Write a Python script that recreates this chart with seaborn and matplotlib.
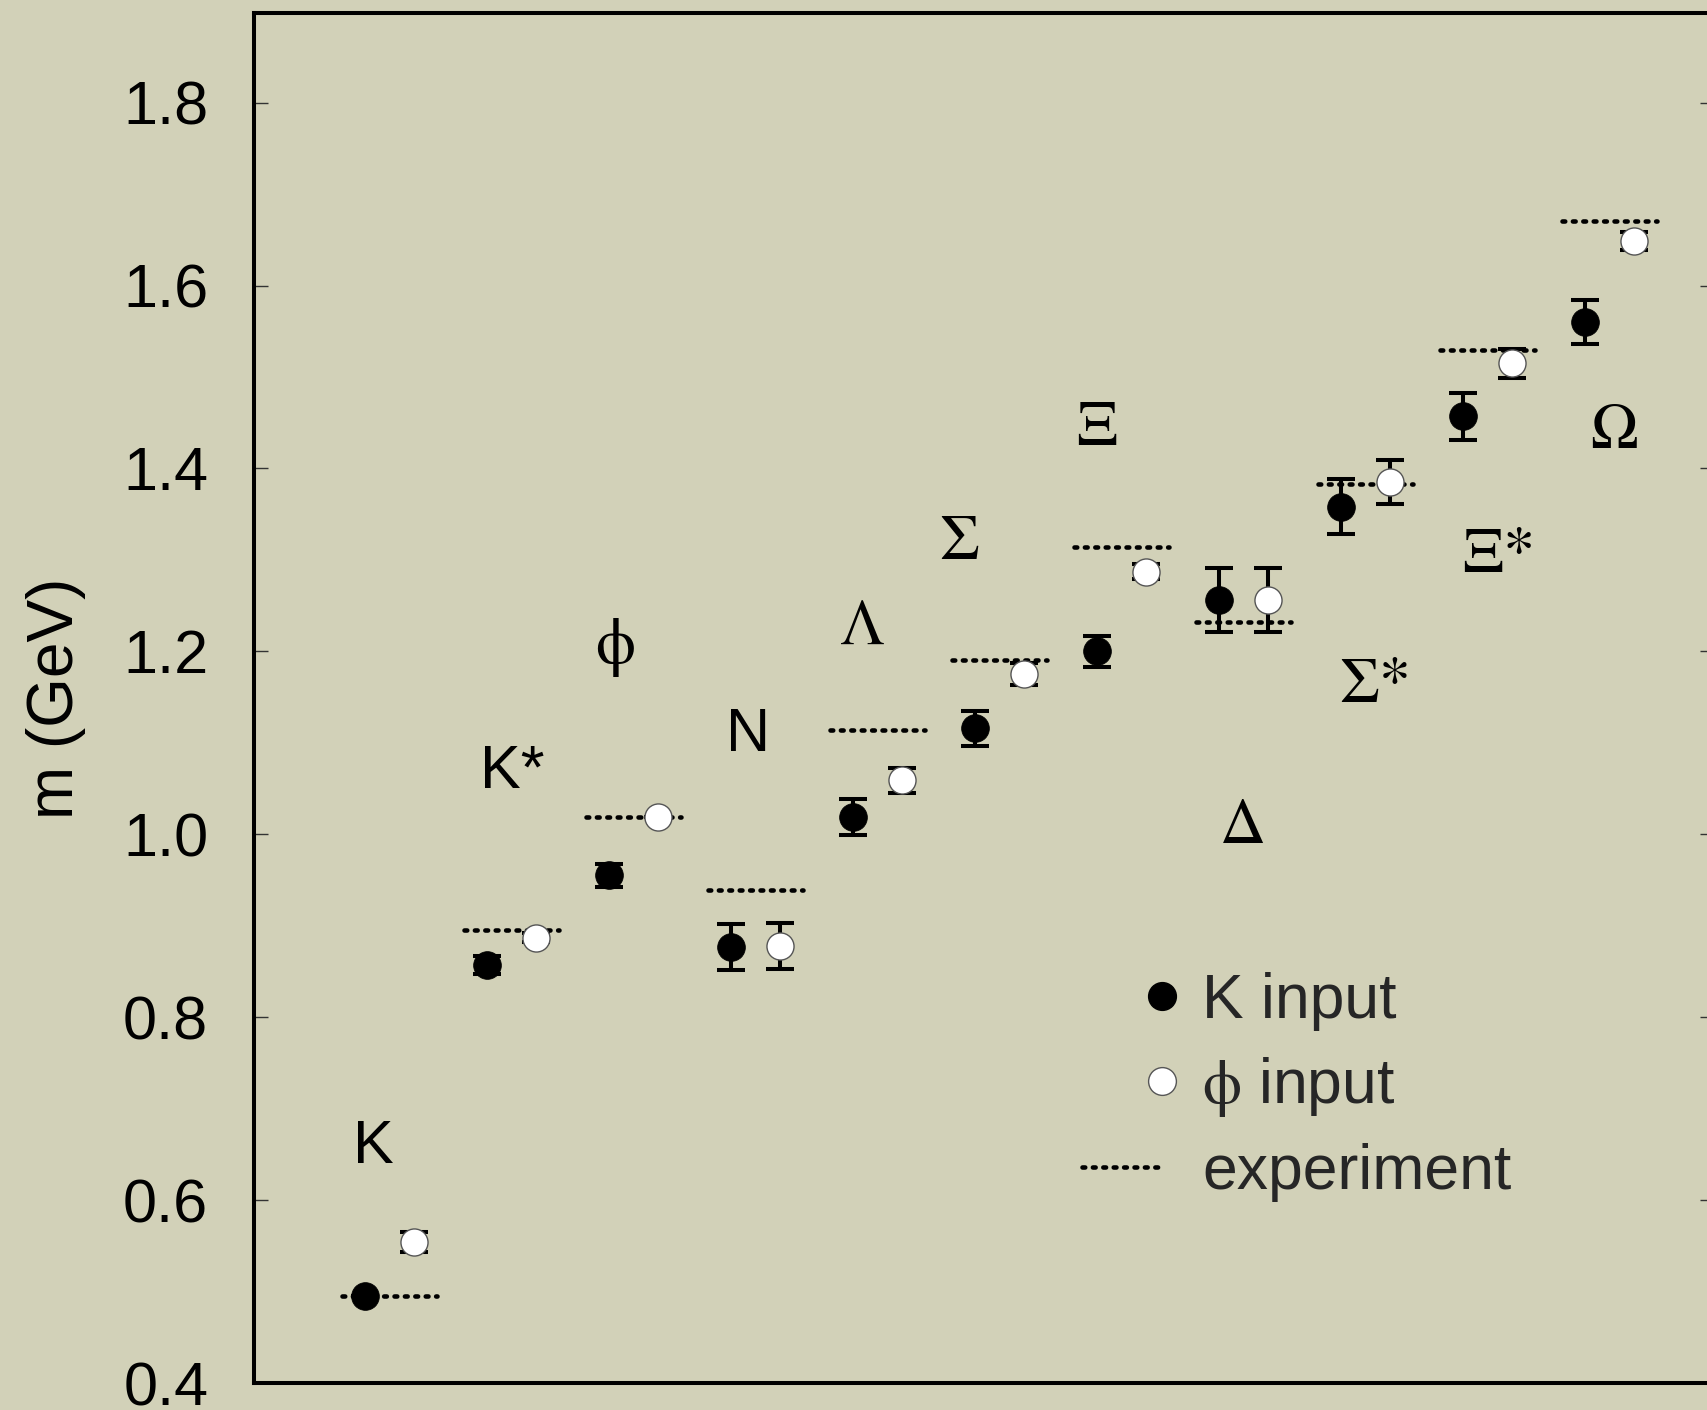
import numpy as np
import pandas as pd
import matplotlib
matplotlib.use('Agg')
import matplotlib.pyplot as plt
import seaborn as sns
from matplotlib.lines import Line2D
from matplotlib.legend_handler import HandlerLine2D

# hadron masses (GeV): lattice with K input / phi input, and experiment
particles = ['K', 'K*', 'phi', 'N', 'Lambda', 'Sigma', 'Xi', 'Delta', 'Sigma*', 'Xi*', 'Omega']
labels = ['K', 'K*', '\u03d5', 'N', '\u039b', '\u03a3', '\u039e', '\u0394', '\u03a3*', '\u039e*', '\u03a9']
label_serif = [False, False, True, False, True, True, True, True, True, True, True]
label_x = [0.07, 1.21, 2.05, 3.14, 4.08, 4.87, 6.0, 7.2, 8.28, 9.29, 10.24]
label_y = [0.658, 1.068, 1.204, 1.108, 1.224, 1.318, 1.442, 1.007, 1.162, 1.304, 1.438]

k_input = [0.495, 0.857, 0.955, 0.877, 1.019, 1.116, 1.200, 1.256, 1.358, 1.457, 1.560]
k_err = [0.0, 0.010, 0.013, 0.025, 0.020, 0.019, 0.017, 0.035, 0.030, 0.026, 0.024]
phi_input = [0.554, 0.887, 1.019, 0.878, 1.059, 1.175, 1.287, 1.256, 1.385, 1.515, 1.649]
phi_err = [0.011, 0.005, 0.0, 0.025, 0.014, 0.012, 0.008, 0.035, 0.024, 0.016, 0.010]
experiment = [0.495, 0.895, 1.019, 0.939, 1.114, 1.191, 1.314, 1.232, 1.383, 1.530, 1.671]

df = pd.DataFrame({'particle': particles, 'k': k_input, 'k_err': k_err,
                   'phi': phi_input, 'phi_err': phi_err, 'exp': experiment})
df['x'] = np.arange(len(df))
df['x_phi'] = df['x'] + 0.4

bg = '#d2d1b8'
sns.set_theme(style='white')
plt.rcParams['font.family'] = ['Liberation Sans', 'DejaVu Sans']
plt.rcParams['mathtext.fontset'] = 'stix'

fig = plt.figure(figsize=(17.08, 14.10), dpi=100, facecolor=bg)
ax = fig.add_axes([254 / 1708, 1 - 1383 / 1410, (1714 - 254) / 1708, 1370 / 1410])
ax.set_facecolor(bg)

dot = (0, (0.6, 1.67))

# experiment lines
ax.hlines(df['exp'], df['x'] - 0.19, df['x'] + 0.59, colors='black', linewidth=3.3,
          linestyles=[dot], capstyle='round', zorder=2)

# error bars
ax.errorbar(df['x'], df['k'], yerr=df['k_err'], fmt='none', ecolor='black',
            elinewidth=2.9, capsize=10.4, capthick=2.9, zorder=3)
ax.errorbar(df['x_phi'], df['phi'], yerr=df['phi_err'], fmt='none', ecolor='black',
            elinewidth=2.9, capsize=10.4, capthick=2.9, zorder=3)

# points
sns.scatterplot(data=df, x='x', y='k', ax=ax, s=20 ** 2, color='black',
                edgecolor='black', linewidth=0.5, zorder=4, legend=False)
sns.scatterplot(data=df, x='x_phi', y='phi', ax=ax, s=19.5 ** 2, color='white',
                edgecolor='#555555', linewidth=1.0, zorder=4, legend=False)

# particle names
for lab, serif, lx, ly in zip(labels, label_serif, label_x, label_y):
    if serif:
        ax.text(lx, ly, lab, fontsize=46, ha='center', va='center',
                family=['STIXGeneral', 'DejaVu Serif'], color='black')
    else:
        ax.text(lx, ly, lab, fontsize=44, ha='center', va='center', color='black')

ax.set_xlim(-0.91, 11.057)
ax.set_ylim(0.4, 1.898)
ax.set_xticks([])
ax.set_yticks([0.4, 0.6, 0.8, 1.0, 1.2, 1.4, 1.6, 1.8])
ax.set_yticklabels(['0.4', '0.6', '0.8', '1.0', '1.2', '1.4', '1.6', '1.8'])
ax.tick_params(axis='y', direction='in', length=10, width=1, color='#333333',
               labelsize=44, pad=33, right=True, left=True, labelcolor='black')
ax.set_xlabel('')
ax.set_ylabel('m (GeV)', fontsize=46, color='black')
ax.yaxis.set_label_coords(-0.115, 0.5)
for side in ['left', 'top', 'right', 'bottom']:
    ax.spines[side].set_color('black')
    ax.spines[side].set_linewidth(2.9)


class RightMarker(HandlerLine2D):
    # put the legend marker at the right end of the handle box
    def get_xdata(self, legend, xdescent, ydescent, width, height, fontsize):
        xr = -xdescent + width
        return [xr, xr], [xr]


h_k = Line2D([], [], linestyle='none', marker='o', markersize=20,
             markerfacecolor='black', markeredgecolor='black')
h_phi = Line2D([], [], linestyle='none', marker='o', markersize=20,
               markerfacecolor='white', markeredgecolor='#555555', markeredgewidth=1.0)
h_exp = Line2D([], [], color='black', linewidth=3.3, linestyle=dot, dash_capstyle='round')
leg = ax.legend([h_k, h_phi, h_exp], ['K input', r'$\mathrm{\phi}$ input', 'experiment'],
                handler_map={h_k: RightMarker(numpoints=1), h_phi: RightMarker(numpoints=1)},
                loc='center left', bbox_to_anchor=((1082 - 254) / 1460, (1383 - 1087) / 1370),
                frameon=False, fontsize=45, handlelength=1.28, handletextpad=0.64,
                labelspacing=0.38, borderpad=0, borderaxespad=0)

fig.savefig('out.png', dpi=100, facecolor=bg)
